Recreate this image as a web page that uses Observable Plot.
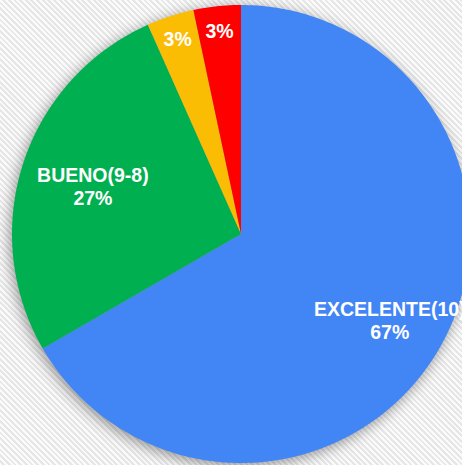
<!DOCTYPE html>
<html>
<head>
<meta charset="utf-8">
<script src="https://cdn.jsdelivr.net/npm/d3@7"></script>
<script src="https://cdn.jsdelivr.net/npm/@observablehq/plot@0.6"></script>
<style>
  html, body { margin: 0; padding: 0; overflow: hidden; }
  body {
    width: 462px; height: 465px;
    background: repeating-linear-gradient(45deg, #fbfbfb 0px, #fbfbfb 2px, #e6e6e6 2px, #e6e6e6 4px);
  }
  #chart svg { display: block; background: transparent; }
  #chart g[aria-label="line"] { filter: drop-shadow(-2px 3px 7px rgba(0,0,0,0.4)); }
</style>
</head>
<body>
<div id="chart"></div>
<script>
// Data
const categories = ["EXCELENTE(10)", "BUENO(9-8)", "REGULAR(7-6)", "MALO(5-0)"];
const counts = [20, 8, 1, 1];
const showName = [true, true, false, false];
const colors = ["#4285f4", "#00b050", "#fbbc04", "#ff0000"];

// Layout constants (style, not data)
const W = 462, H = 465, CX = 240.5, CY = 233.5, R = 229;
const labelRadius = [0.75, 0.68, 0.895, 0.895];

const total = d3.sum(counts);
const pie = d3.pie().sort(null).value(d => d)(counts);

// Build slice outlines in data coordinates (angle clockwise from 12 o'clock)
const slicePts = [];
pie.forEach((p, i) => {
  slicePts.push({cat: categories[i], x: 0, y: 0});
  const n = Math.max(2, Math.ceil((p.endAngle - p.startAngle) / (Math.PI / 180)));
  for (let k = 0; k <= n; k++) {
    const a = p.startAngle + (p.endAngle - p.startAngle) * k / n;
    slicePts.push({cat: categories[i], x: R * Math.sin(a), y: R * Math.cos(a)});
  }
  slicePts.push({cat: categories[i], x: 0, y: 0});
});

const labels = pie.map((p, i) => {
  const a = (p.startAngle + p.endAngle) / 2;
  const r = R * labelRadius[i];
  const pct = Math.round(100 * counts[i] / total) + "%";
  return {
    x: r * Math.sin(a), y: r * Math.cos(a),
    text: showName[i] ? categories[i] + "\n" + pct : pct
  };
});

const chart = Plot.plot({
  width: W, height: H,
  marginTop: 0, marginRight: 0, marginBottom: 0, marginLeft: 0,
  style: {background: "transparent", overflow: "hidden"},
  x: {axis: null, domain: [-CX, W - CX]},
  y: {axis: null, domain: [-(H - CY), CY]},
  color: {domain: categories, range: colors},
  marks: [
    Plot.line(slicePts, {x: "x", y: "y", z: "cat", fill: "cat", stroke: null, curve: "linear"}),
    Plot.text(labels, {
      x: "x", y: "y", text: "text",
      fill: "white", fontSize: 19.5, fontWeight: "bold",
      fontFamily: "Liberation Sans, Arial, sans-serif",
      lineHeight: 1.18, textAnchor: "middle"
    })
  ]
});
document.getElementById("chart").appendChild(chart);
</script>
</body>
</html>
